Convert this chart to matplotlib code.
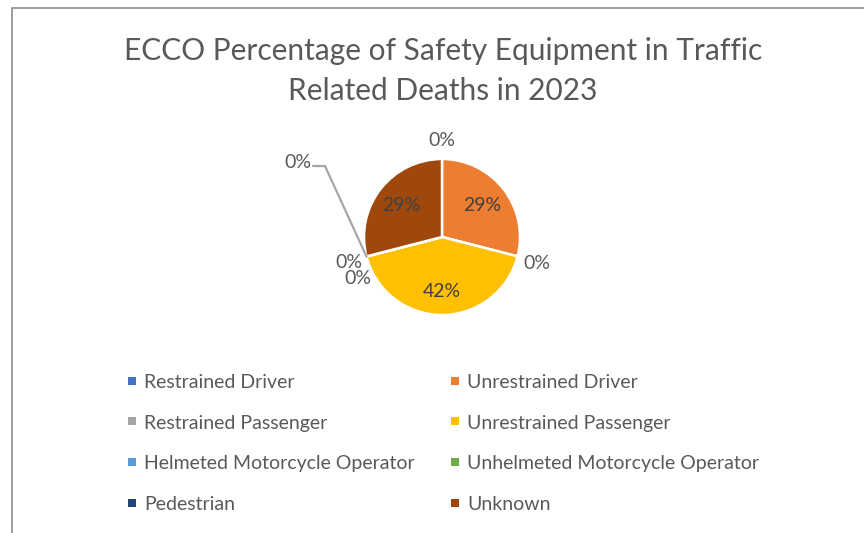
import numpy as np
import matplotlib
matplotlib.use('Agg')
import matplotlib.pyplot as plt
from matplotlib.patches import Rectangle

# data
categories = ['Restrained Driver', 'Unrestrained Driver', 'Restrained Passenger',
              'Unrestrained Passenger', 'Helmeted Motorcycle Operator',
              'Unhelmeted Motorcycle Operator', 'Pedestrian', 'Unknown']
percent = [0, 29, 0, 42, 0, 0, 0, 29]
colors = ['#4472C4', '#ED7D31', '#A5A5A5', '#FFC000',
          '#5B9BD5', '#70AD47', '#264478', '#9E480E']
title = 'ECCO Percentage of Safety Equipment in Traffic\nRelated Deaths in 2023'

plt.rcParams['font.family'] = ['Lato', 'DejaVu Sans']
W, H = 864, 533
fig = plt.figure(figsize=(W / 100, H / 100), dpi=100)
fig.patch.set_facecolor('white')

# chart border (cropped screenshot)
fig.patches.append(Rectangle((12 / W, -0.1), 1.2, (H - 8) / H + 0.1,
                             transform=fig.transFigure, fill=False,
                             edgecolor='#8c8c8c', linewidth=1.2))

fig.text(443 / W, 1 - 71 / H, title, ha='center', va='center',
         fontsize=21.5, color='#595959', linespacing=1.5)

# pie
cx, cy, rad = 442, 237, 78
span = 200
ax = fig.add_axes([(cx - span / 2) / W, (H - cy - span / 2) / H, span / W, span / H])
lim = span / 2 / rad
wedges, _ = ax.pie(percent, colors=colors, startangle=90, counterclock=False,
                   radius=1, wedgeprops=dict(edgecolor='white', linewidth=1.8))
ax.set_xlim(-lim, lim)
ax.set_ylim(-lim, lim)
ax.set_aspect('equal')
ax.axis('off')

# data labels
tot = sum(percent)
cum = np.cumsum([0] + percent[:-1])
zero_pos = {4: (1.25, 0.02, -0.02), 5: (1.27, 0.15, -0.22)}
for i, v in enumerate(percent):
    mid = 90 - (cum[i] + v / 2) / tot * 360
    a = np.deg2rad(mid)
    txt = f'{v}%'
    if v > 0:
        r = 0.7 if v > 40 else 0.66
        ax.text(r * np.cos(a), r * np.sin(a), txt, ha='center', va='center',
                fontsize=14, color='#404040')
        continue
    if i == 6:
        ex, ey = np.cos(a), np.sin(a)
        lx, ly = -1.65, 0.91
        ax.plot([ex, lx + 0.15, lx], [ey, ly, ly], color='#a6a6a6', lw=1.6,
                clip_on=False)
        ax.text(lx - 0.02, ly + 0.04, txt, ha='right', va='center', fontsize=14,
                color='#595959')
        continue
    r, dx, dy = zero_pos.get(i, (1.26, 0, -0.02))
    ax.text(r * np.cos(a) + dx, r * np.sin(a) + dy, txt, ha='center', va='center',
            fontsize=14, color='#595959')

# legend, two columns, row-major
col_x = [132, 455]
row_y = [381, 421, 462, 503]
for i, (name, c) in enumerate(zip(categories, colors)):
    x = col_x[i % 2]
    y = row_y[i // 2]
    fig.patches.append(Rectangle(((x - 4) / W, 1 - (y + 4) / H), 8 / W, 8 / H,
                                 transform=fig.transFigure, facecolor=c,
                                 edgecolor='none'))
    fig.text((x + 12) / W, 1 - (y + 2) / H, name, ha='left', va='center',
             fontsize=14, color='#595959')

fig.savefig('out.png', dpi=100)
